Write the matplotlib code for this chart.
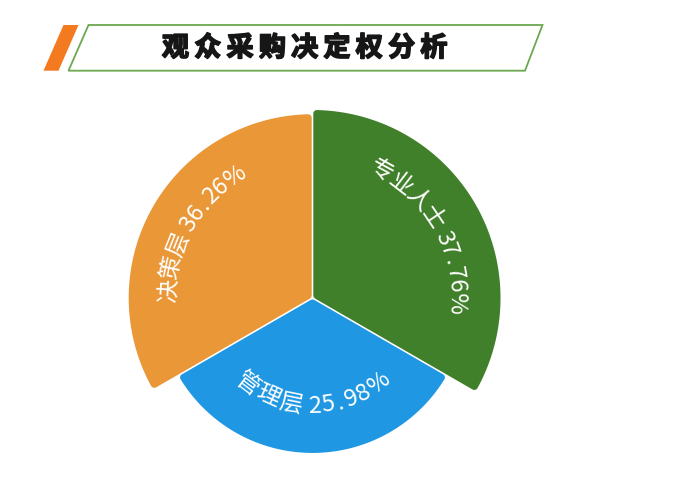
import numpy as np
import matplotlib
matplotlib.use("Agg")
import matplotlib.pyplot as plt
from matplotlib.patches import Polygon
import matplotlib.patheffects as pe

plt.rcParams['font.family'] = ['Noto Sans CJK SC', 'DejaVu Sans']

# ---- data ----
title = "观众采购决定权分析"
categories = ["专业人士", "管理层", "决策层"]
values = [37.76, 25.98, 36.26]
colors = ["#41802A", "#1F97E2", "#E99737"]

W, H = 673, 494
fig = plt.figure(figsize=(W / 100, H / 100), dpi=100)
ax = fig.add_axes([0, 0, 1, 1])
ax.set_xlim(0, W)
ax.set_ylim(0, H)
ax.axis("off")

def sy(y):
    return H - y

# ---- title banner ----
ax.add_patch(Polygon([(63.5, sy(25)), (78.5, sy(25)), (58.5, sy(70.7)), (43.5, sy(70.7))],
                     closed=True, facecolor="#F37A1F", edgecolor="none"))
ax.add_patch(Polygon([(88.5, sy(25)), (542.5, sy(25)), (525, sy(70.7)), (68.5, sy(70.7))],
                     closed=True, facecolor="white", edgecolor="#6BA84F", linewidth=1.3))
x0, dx = 175.5, 32.3
for i, ch in enumerate(title):
    ax.text(x0 + i * dx, sy(48), ch, fontsize=19.5, fontweight="heavy", color="#161616",
            ha="center", va="center",
            path_effects=[pe.withStroke(linewidth=1.2, foreground="#161616")])

# ---- rose pie ----
cx, cy = 312.5, sy(298)
vmax = max(values)
r_min, r_max = 82.0, 188.0
def rad(v):
    return r_min + (r_max - r_min) * v / vmax

n = len(values)
step = 360.0 / n
start = 90.0
fig.canvas.draw()
renderer = fig.canvas.get_renderer()

fs = 17
em = fs * 100 / 72

def char_width(ch):
    t1 = ax.text(0, 0, "a" + ch + "a", fontsize=fs)
    t2 = ax.text(0, 0, "aa", fontsize=fs)
    w = t1.get_window_extent(renderer).width - t2.get_window_extent(renderer).width
    t1.remove(); t2.remove()
    if ch == ".":
        w += 0.18 * em
    return w

def rounded_wedge(r, a0, a1, d=3.5, g=0.8):
    half = np.radians(a1 - a0) / 2
    bis = np.radians(a0 + a1) / 2
    off = d + g
    apex_r = off / np.sin(half)
    pts = [(cx + apex_r * np.cos(bis), cy + apex_r * np.sin(bis))]
    ri = r - d
    da = np.degrees(np.arcsin(off / ri))
    for th in np.linspace(a0 + da, a1 - da, 200):
        t = np.radians(th)
        pts.append((cx + ri * np.cos(t), cy + ri * np.sin(t)))
    return pts, 2 * d * 72 / 100

label_r = [146, 106, 146]

for i, (cat, v, col) in enumerate(zip(categories, values, colors)):
    a1 = start - i * step
    a0 = a1 - step
    r = rad(v)
    pts, lw = rounded_wedge(r, a0, a1)
    ax.add_patch(Polygon(pts, closed=True, facecolor=col, edgecolor=col, linewidth=lw,
                         joinstyle="round"))
    label = f"{cat} {v:.2f}%"
    widths = [char_width(c) for c in label]
    L = sum(widths)
    mid = (a0 + a1) / 2
    rc = label_r[i]
    span = np.degrees(L / rc)
    upper = np.sin(np.radians(mid)) > -0.5
    cum = 0.0
    for c, w in zip(label, widths):
        s = cum + w / 2
        cum += w
        if c == " ":
            continue
        if upper:
            th = mid + span / 2 - np.degrees(s / rc)
            rot = th - 90
            rb = rc - 0.36 * em
        else:
            th = mid - span / 2 + np.degrees(s / rc)
            rot = th + 90
            rb = rc + 0.36 * em
        t = np.radians(th)
        ax.text(cx + rb * np.cos(t), cy + rb * np.sin(t), c, fontsize=fs, color="white",
                fontweight="light", rotation=rot, rotation_mode="anchor",
                ha="center", va="baseline")

fig.savefig("out.png", dpi=100)
